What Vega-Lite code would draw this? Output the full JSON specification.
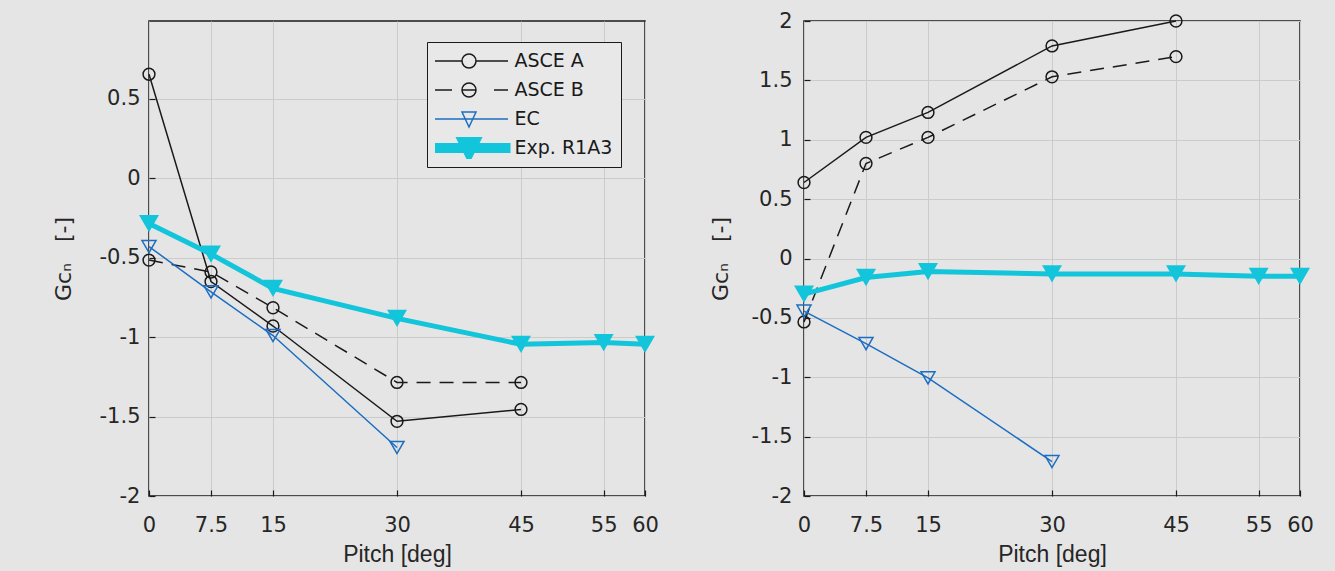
{
  "$schema": "https://vega.github.io/schema/vega-lite/v6.json",
  "background": "#e5e5e5",
  "padding": {"left": 51, "top": 9, "right": 20, "bottom": 5},
  "spacing": 159,
  "bounds": "flush",
  "config": {
    "view": {"stroke": "#1a1a1a", "strokeWidth": 1.5, "fill": "#e5e5e5"},
    "axis": {
      "domain": false, "grid": true, "gridColor": "#cbcbcb", "gridWidth": 1,
      "tickColor": "#1a1a1a", "tickSize": -6, "tickWidth": 1.2,
      "labelFont": "DejaVu Sans", "labelFontSize": 21, "labelColor": "#262626",
      "titleFont": "Liberation Sans", "titleFontSize": 23, "titleFontWeight": "normal", "titleColor": "#262626",
      "labelOverlap": false, "labelFlush": false
    },
    "axisY": {"titleFont": "DejaVu Sans", "titleFontSize": 22}
  },
  "resolve": {
    "scale": {"color": "independent", "stroke": "independent", "strokeWidth": "independent", "shape": "independent", "size": "independent"},
    "legend": {"color": "independent"}
  },
  "datasets": {
    "pts": [
      {"panel": "L", "series": "ASCE A", "pitch": 0, "value": 0.655},
      {"panel": "L", "series": "ASCE A", "pitch": 7.5, "value": -0.65},
      {"panel": "L", "series": "ASCE A", "pitch": 15, "value": -0.93},
      {"panel": "L", "series": "ASCE A", "pitch": 30, "value": -1.53},
      {"panel": "L", "series": "ASCE A", "pitch": 45, "value": -1.455},
      {"panel": "L", "series": "ASCE B", "pitch": 0, "value": -0.515},
      {"panel": "L", "series": "ASCE B", "pitch": 7.5, "value": -0.59},
      {"panel": "L", "series": "ASCE B", "pitch": 15, "value": -0.815},
      {"panel": "L", "series": "ASCE B", "pitch": 30, "value": -1.285},
      {"panel": "L", "series": "ASCE B", "pitch": 45, "value": -1.285},
      {"panel": "L", "series": "EC", "pitch": 0, "value": -0.43},
      {"panel": "L", "series": "EC", "pitch": 7.5, "value": -0.715},
      {"panel": "L", "series": "EC", "pitch": 15, "value": -0.99},
      {"panel": "L", "series": "EC", "pitch": 30, "value": -1.695},
      {"panel": "L", "series": "Exp. R1A3", "pitch": 0, "value": -0.285},
      {"panel": "L", "series": "Exp. R1A3", "pitch": 7.5, "value": -0.477},
      {"panel": "L", "series": "Exp. R1A3", "pitch": 15, "value": -0.693},
      {"panel": "L", "series": "Exp. R1A3", "pitch": 30, "value": -0.882},
      {"panel": "L", "series": "Exp. R1A3", "pitch": 45, "value": -1.045},
      {"panel": "L", "series": "Exp. R1A3", "pitch": 55, "value": -1.034},
      {"panel": "L", "series": "Exp. R1A3", "pitch": 60, "value": -1.045},
      {"panel": "R", "series": "ASCE A", "pitch": 0, "value": 0.64},
      {"panel": "R", "series": "ASCE A", "pitch": 7.5, "value": 1.02},
      {"panel": "R", "series": "ASCE A", "pitch": 15, "value": 1.23},
      {"panel": "R", "series": "ASCE A", "pitch": 30, "value": 1.79},
      {"panel": "R", "series": "ASCE A", "pitch": 45, "value": 2.0},
      {"panel": "R", "series": "ASCE B", "pitch": 0, "value": -0.534},
      {"panel": "R", "series": "ASCE B", "pitch": 7.5, "value": 0.8},
      {"panel": "R", "series": "ASCE B", "pitch": 15, "value": 1.02},
      {"panel": "R", "series": "ASCE B", "pitch": 30, "value": 1.53},
      {"panel": "R", "series": "ASCE B", "pitch": 45, "value": 1.7},
      {"panel": "R", "series": "EC", "pitch": 0, "value": -0.443},
      {"panel": "R", "series": "EC", "pitch": 7.5, "value": -0.717},
      {"panel": "R", "series": "EC", "pitch": 15, "value": -1.005},
      {"panel": "R", "series": "EC", "pitch": 30, "value": -1.71},
      {"panel": "R", "series": "Exp. R1A3", "pitch": 0, "value": -0.3},
      {"panel": "R", "series": "Exp. R1A3", "pitch": 7.5, "value": -0.16},
      {"panel": "R", "series": "Exp. R1A3", "pitch": 15, "value": -0.11},
      {"panel": "R", "series": "Exp. R1A3", "pitch": 30, "value": -0.13},
      {"panel": "R", "series": "Exp. R1A3", "pitch": 45, "value": -0.13},
      {"panel": "R", "series": "Exp. R1A3", "pitch": 55, "value": -0.15},
      {"panel": "R", "series": "Exp. R1A3", "pitch": 60, "value": -0.15}
    ]
  },
  "hconcat": [
    {
      "width": 496, "height": 475,
      "data": {"name": "pts"},
      "transform": [{"filter": "datum.panel === 'L'"}],
      "encoding": {
        "x": {"field": "pitch", "type": "quantitative", "scale": {"domain": [0, 60], "nice": false, "zero": false},
              "axis": {"values": [0, 7.5, 15, 30, 45, 55, 60], "title": "Pitch [deg]", "labelPadding": 24, "titlePadding": 8, "labelExpr": "'' + datum.value"}},
        "y": {"field": "value", "type": "quantitative", "scale": {"domain": [-2, 0.99], "nice": false, "zero": false},
              "axis": {"values": [-2, -1.5, -1, -0.5, 0, 0.5], "title": "Gcₙ\u00a0\u00a0\u00a0[-]", "labelPadding": 15, "titlePadding": 24, "labelExpr": "'' + datum.value"}}
      },
      "layer": [
        {
          "transform": [{"filter": "datum.series === 'ASCE B'"}],
          "mark": {"type": "line", "clip": false, "color": "#1a1a1a", "strokeWidth": 1.5, "strokeDash": [14, 9]}
        },
        {
          "transform": [{"filter": "datum.series !== 'ASCE B'"}],
          "mark": {"type": "line", "clip": false},
          "encoding": {
            "color": {"field": "series", "type": "nominal",
                      "scale": {"domain": ["ASCE A", "ASCE B", "EC", "Exp. R1A3"], "range": ["#1a1a1a", "#1a1a1a", "#1b6ec2", "#12c5da"]},
                      "legend": {
                        "orient": "none", "legendX": 278, "legendY": 21, "title": null,
                        "fillColor": "#e8e8e8", "strokeColor": "#1a1a1a", "padding": 8, "rowPadding": 7, "clipHeight": 22,
                        "labelFont": "DejaVu Sans", "labelFontSize": 19, "labelColor": "#1a1a1a", "labelOffset": 60.5,
                        "labelLimit": 300, "symbolSize": 4,
                        "encode": {
                          "symbols": {
                            "update": {
                              "shape": {"signal": "datum.value === 'ASCE A' ? 'M-11.5,0L17.5,0M31.5,0L63.5,0M31.5,0C31.5,3.87,28.37,7,24.5,7C20.63,7,17.5,3.87,17.5,0C17.5,-3.87,20.63,-7,24.5,-7C28.37,-7,31.5,-3.87,31.5,0Z' : datum.value === 'ASCE B' ? 'M31.5,0C31.5,3.87,28.37,7,24.5,7C20.63,7,17.5,3.87,17.5,0C17.5,-3.87,20.63,-7,24.5,-7C28.37,-7,31.5,-3.87,31.5,0ZM-11.5,0L7.5,0M17.5,0L31.5,0M49.5,0L63.5,0' : datum.value === 'EC' ? 'M-11.5,0L63.5,0M17.5,-7L31.5,-7L24.5,8Z' : 'M-11.5,-2.5L63.5,-2.5L63.5,2.5L-11.5,2.5ZM14.5,-9.5L34.5,-9.5L24.5,10.5Z'"},
                              "strokeWidth": {"signal": "datum.value === 'Exp. R1A3' ? 1 : 1.5"},
                              "fill": {"signal": "datum.value === 'Exp. R1A3' ? '#12c5da' : 'transparent'"},
                              "opacity": {"value": 1}
                            }
                          }
                        }
                      }},
            "strokeWidth": {"field": "series", "type": "nominal",
                            "scale": {"type": "ordinal", "domain": ["ASCE A", "ASCE B", "EC", "Exp. R1A3"], "range": [1.5, 1.5, 1.5, 5]}, "legend": null}
          }
        },
        {
          "transform": [{"filter": "datum.series !== 'Exp. R1A3'"}],
          "mark": {"type": "point", "filled": false, "strokeWidth": 1.5, "opacity": 1, "clip": false},
          "encoding": {
            "shape": {"field": "series", "type": "nominal", "scale": {"domain": ["ASCE A", "ASCE B", "EC"], "range": ["circle", "circle", "triangle-down"]}, "legend": null},
            "stroke": {"field": "series", "type": "nominal", "scale": {"domain": ["ASCE A", "ASCE B", "EC"], "range": ["#1a1a1a", "#1a1a1a", "#1b6ec2"]}, "legend": null},
            "size": {"field": "series", "type": "nominal", "scale": {"type": "ordinal", "domain": ["ASCE A", "ASCE B", "EC"], "range": [140, 140, 196]}, "legend": null}
          }
        },
        {
          "transform": [{"filter": "datum.series === 'Exp. R1A3'"}],
          "mark": {"type": "point", "filled": true, "shape": "triangle-down", "size": 400, "color": "#12c5da", "strokeWidth": 1.5, "opacity": 1, "clip": false}
        }
      ]
    },
    {
      "width": 496, "height": 475,
      "data": {"name": "pts"},
      "transform": [{"filter": "datum.panel === 'R'"}],
      "encoding": {
        "x": {"field": "pitch", "type": "quantitative", "scale": {"domain": [0, 60], "nice": false, "zero": false},
              "axis": {"values": [0, 7.5, 15, 30, 45, 55, 60], "title": "Pitch [deg]", "labelPadding": 24, "titlePadding": 8, "labelExpr": "'' + datum.value"}},
        "y": {"field": "value", "type": "quantitative", "scale": {"domain": [-2, 2], "nice": false, "zero": false},
              "axis": {"values": [-2, -1.5, -1, -0.5, 0, 0.5, 1, 1.5, 2], "title": "Gcₙ\u00a0\u00a0\u00a0[-]", "labelPadding": 18, "titlePadding": 19, "labelExpr": "'' + datum.value"}}
      },
      "layer": [
        {
          "transform": [{"filter": "datum.series === 'ASCE B'"}],
          "mark": {"type": "line", "clip": false, "color": "#1a1a1a", "strokeWidth": 1.5, "strokeDash": [14, 9]}
        },
        {
          "transform": [{"filter": "datum.series !== 'ASCE B'"}],
          "mark": {"type": "line", "clip": false},
          "encoding": {
            "color": {"field": "series", "type": "nominal",
                      "scale": {"domain": ["ASCE A", "ASCE B", "EC", "Exp. R1A3"], "range": ["#1a1a1a", "#1a1a1a", "#1b6ec2", "#12c5da"]}, "legend": null},
            "strokeWidth": {"field": "series", "type": "nominal",
                            "scale": {"type": "ordinal", "domain": ["ASCE A", "ASCE B", "EC", "Exp. R1A3"], "range": [1.5, 1.5, 1.5, 5]}, "legend": null}
          }
        },
        {
          "transform": [{"filter": "datum.series !== 'Exp. R1A3'"}],
          "mark": {"type": "point", "filled": false, "strokeWidth": 1.5, "opacity": 1, "clip": false},
          "encoding": {
            "shape": {"field": "series", "type": "nominal", "scale": {"domain": ["ASCE A", "ASCE B", "EC"], "range": ["circle", "circle", "triangle-down"]}, "legend": null},
            "stroke": {"field": "series", "type": "nominal", "scale": {"domain": ["ASCE A", "ASCE B", "EC"], "range": ["#1a1a1a", "#1a1a1a", "#1b6ec2"]}, "legend": null},
            "size": {"field": "series", "type": "nominal", "scale": {"type": "ordinal", "domain": ["ASCE A", "ASCE B", "EC"], "range": [140, 140, 196]}, "legend": null}
          }
        },
        {
          "transform": [{"filter": "datum.series === 'Exp. R1A3'"}],
          "mark": {"type": "point", "filled": true, "shape": "triangle-down", "size": 400, "color": "#12c5da", "strokeWidth": 1.5, "opacity": 1, "clip": false}
        }
      ]
    }
  ]
}
